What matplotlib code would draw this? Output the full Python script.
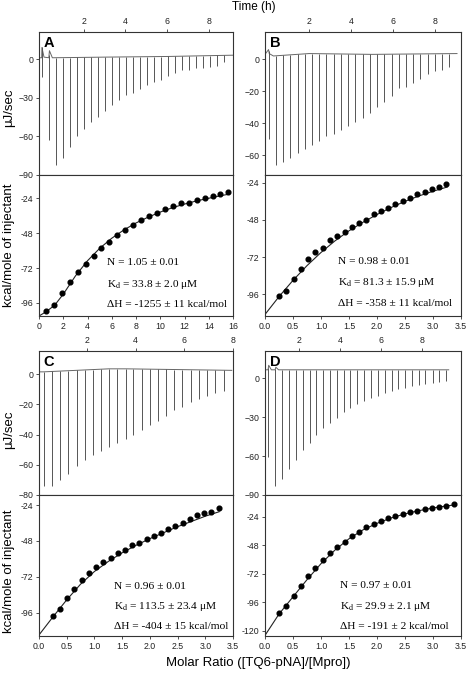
import numpy as np
import matplotlib
matplotlib.use("Agg")
import matplotlib.pyplot as plt

plt.rcParams['font.family'] = ['Liberation Sans', 'DejaVu Sans']
plt.rcParams['mathtext.fontset'] = 'stix'

# ---- raw thermograms: injection times (h) and peak tips (uJ/sec)
a_t = [0.0, 0.34, 0.69, 1.01, 1.35, 1.68, 2.02, 2.35, 2.69, 3.02, 3.36, 3.69, 4.03, 4.36,
       4.70, 5.03, 5.37, 5.70, 6.04, 6.37, 6.71, 7.04, 7.39, 7.73, 8.06, 8.40, 8.73]
a_tip = [-13.6, -63, -82, -77, -68, -60, -54, -49, -45, -40, -36, -32, -28, -26,
         -23, -20.5, -18, -16, -13, -11, -8.7, -8.2, -7.2, -6.7, -6.5, -5.1, -2.3]
a_base_t = [-0.14, -0.01, 0.0, 0.1, 0.33, 0.36, 0.5, 3.0, 6.0, 9.15]
a_base_v = [1.0, 1.0, 9.0, 1.5, 1.0, 6.5, 1.0, 1.5, 2.0, 3.0]

b_t = [0.08, 0.42, 0.77, 1.10, 1.45, 1.79, 2.13, 2.47, 2.82, 3.17, 3.52, 3.87, 4.20,
       4.55, 4.90, 5.25, 5.58, 5.93, 6.27, 6.62, 6.95, 7.30, 7.65, 8.00, 8.33, 8.68]
b_tip = [-50, -66.5, -64.6, -62, -59, -56, -54, -51.3, -48.3, -46.7, -44.2, -42, -39.4,
         -36.9, -33.8, -30, -26.5, -23.3, -18, -17.7, -15, -12.5, -9.2, -7.3, -7, -4.6]
b_base_t = [-0.1, 0.07, 0.1, 0.3, 2.0, 5.0, 9.04]
b_base_v = [3.0, 6.0, 3.5, 2.0, 3.5, 3.0, 3.5]

c_t = [0.22, 0.56, 0.90, 1.24, 1.58, 1.92, 2.24, 2.58, 2.91, 3.25, 3.59, 3.91,
       4.25, 4.59, 4.92, 5.26, 5.58, 5.92, 6.26, 6.59, 6.93, 7.27, 7.61]
c_tip = [-74, -74, -70, -65.8, -61, -57, -53.7, -51, -48.2, -45.6, -42.7, -40.5,
         -37.3, -34, -30.9, -28, -23.7, -21.5, -18.2, -16.7, -14.2, -12.7, -11.2]
c_base_t = [0.03, 0.22, 2.9, 3.6, 7.95]
c_base_v = [1.5, 1.5, 3.5, 3.5, 2.5]

d_t = [0.50, 0.84, 1.18, 1.51, 1.85, 2.18, 2.52, 2.85, 3.17, 3.52, 3.84, 4.18, 4.51, 4.84,
       5.18, 5.51, 5.85, 6.17, 6.52, 6.84, 7.17, 7.51, 7.84, 8.16, 8.51, 8.83, 9.17]
d_tip = [-60.8, -83.3, -77.6, -70.3, -62.8, -55.6, -49.7, -43.4, -38.3, -34.4, -30.3, -26.4,
         -23.3, -20.2, -17.6, -15.5, -13.7, -11.6, -9.8, -8.3, -7.2, -6.2, -5.4, -4.7,
         -3.6, -3.1, -2.1]
d_base_t = [0.34, 0.49, 0.52, 0.65, 0.83, 0.87, 1.0, 9.3]
d_base_v = [6.5, 6.5, 10.0, 6.5, 6.5, 8.5, 6.5, 6.5]

# ---- integrated heats (kcal/mole of injectant) and fitted curves
a_x = [0.6, 1.23, 1.88, 2.53, 3.19, 3.84, 4.5, 5.15, 5.8, 6.46, 7.11, 7.77,
       8.42, 9.07, 9.73, 10.38, 11.04, 11.69, 12.34, 13.0, 13.65, 14.31, 14.96, 15.61]
a_y = [-101.7, -97.1, -89.1, -81.8, -75, -69, -63.8, -58, -54.4, -49.6, -45.7, -42.3,
       -38.9, -35.9, -33.8, -31.5, -29.3, -27, -27, -25.4, -23.5, -22.4, -21.3, -19.7]
a_fit_x = [0, 0.6, 1.3, 2, 3, 4, 5, 6, 7, 8, 9, 10, 11, 12, 13, 14, 15, 15.6]
a_fit_y = [-105, -102, -97.5, -90, -77.5, -67, -58.5, -51.5, -45.8, -41, -37, -33.5,
           -30.5, -28, -25.8, -24, -22.2, -21.3]

bc_x = [0.25, 0.38, 0.51, 0.64, 0.77, 0.90, 1.03, 1.16, 1.29, 1.42, 1.55, 1.68,
        1.81, 1.94, 2.07, 2.20, 2.33, 2.46, 2.59, 2.72, 2.85, 2.98, 3.11, 3.24]
b_y = [-96.8, -93.8, -86.2, -79.8, -73, -68.7, -66.2, -60.8, -58.3, -55.7, -52.3, -49.8,
       -47.9, -44.4, -42.1, -40.4, -37.6, -36.1, -33.6, -31.5, -30, -28, -26.6, -25.1]
b_fit_x = [0, 0.25, 0.5, 0.75, 1.0, 1.25, 1.5, 1.75, 2.0, 2.25, 2.5, 2.75, 3.0, 3.25]
b_fit_y = [-109, -97.5, -87, -77.5, -69, -61.5, -55, -49.5, -44.5, -40, -36, -32.5,
           -29.5, -26.8]

c_y = [-98, -93.3, -86.2, -79.9, -73.9, -69.4, -65.4, -62.2, -59.3, -56.4, -54.2, -50.8,
       -49.3, -46.6, -45, -42.6, -40.1, -37.9, -35.9, -33.6, -30.7, -29.6, -28.5, -26.2]
c_fit_x = [0, 0.25, 0.5, 0.75, 1.0, 1.25, 1.5, 1.75, 2.0, 2.25, 2.5, 2.75, 3.0, 3.25]
c_fit_y = [-111, -99, -87.5, -77, -68.5, -61.8, -56, -51, -46.5, -42.5, -38.5, -35,
           -31.5, -28.5]

d_x = [0.25, 0.38, 0.51, 0.64, 0.77, 0.90, 1.03, 1.16, 1.29, 1.42, 1.55, 1.68, 1.81,
       1.94, 2.07, 2.20, 2.33, 2.46, 2.59, 2.72, 2.85, 2.98, 3.11, 3.24, 3.37]
d_y = [-105.4, -99, -90.5, -82.1, -74, -67, -60.5, -54.3, -49.3, -45.1, -40, -36.6, -33,
       -30.2, -27.6, -25.4, -23.4, -21.8, -20.1, -19, -17.5, -16.7, -15.6, -14.5, -12.8]
d_fit_x = [0, 0.25, 0.5, 0.75, 1.0, 1.25, 1.5, 1.75, 2.0, 2.25, 2.5, 2.75, 3.0, 3.25, 3.37]
d_fit_y = [-124, -106, -91.5, -77, -63.5, -52, -42.5, -35, -29.5, -25, -21.5, -18.8,
           -16.5, -14.8, -14]

fit_text = {
    'A': ["N = 1.05 ± 0.01", r"K$_{\rm d}$ = 33.8 ± 2.0 μM", "ΔH = -1255 ± 11 kcal/mol"],
    'B': ["N = 0.98 ± 0.01", r"K$_{\rm d}$ = 81.3 ± 15.9 μM", "ΔH = -358 ± 11 kcal/mol"],
    'C': ["N = 0.96 ± 0.01", r"K$_{\rm d}$ = 113.5 ± 23.4 μM", "ΔH = -404 ± 15 kcal/mol"],
    'D': ["N = 0.97 ± 0.01", r"K$_{\rm d}$ = 29.9 ± 2.1 μM", "ΔH = -191 ± 2 kcal/mol"],
}

W, H = 468, 676
fig = plt.figure(figsize=(W / 100, H / 100), dpi=100)
FRAME = '#333333'
TICK_FS = 6.3


def box(l, r, t, b):
    return [l / W, 1 - b / H, (r - l) / W, (b - t) / H]


def style(ax):
    for s in ax.spines.values():
        s.set_color(FRAME)
        s.set_linewidth(0.8)
    ax.tick_params(labelsize=TICK_FS, length=2.5, width=0.6, color=FRAME,
                   labelcolor='#222222', pad=1.5)


def thermo(rect, letter, t, tip, bt, bv, xlim, ylim, yticks):
    ax = fig.add_axes(rect)
    style(ax)
    base = np.interp(t, bt, bv)
    ax.plot(bt, bv, color='#666666', lw=0.7)
    ax.vlines(t, tip, base, color='#555555', lw=0.7)
    ax.set_xlim(*xlim)
    ax.set_ylim(*ylim)
    ax.set_xticks([2, 4, 6, 8])
    ax.xaxis.tick_top()
    ax.set_yticks(yticks)
    ax.text(0.025, 0.97, letter, transform=ax.transAxes, fontsize=10.5,
            fontweight='bold', va='top', ha='left')
    return ax


def binding(rect, letter, x, y, fx, fy, xlim, ylim, xticks, xlabels, yticks, tx, ty):
    ax = fig.add_axes(rect)
    style(ax)
    ax.plot(fx, fy, color='#222222', lw=0.8)
    ax.plot(x, y, 'o', color='black', ms=3.4)
    ax.set_xlim(*xlim)
    ax.set_ylim(*ylim)
    ax.set_xticks(xticks)
    ax.set_xticklabels(xlabels)
    ax.set_yticks(yticks)
    ax.set_yticklabels([str(v) for v in yticks])
    for line, yy in zip(fit_text[letter], ty):
        ax.text(tx, yy, line, transform=ax.transAxes, fontsize=8.2,
                family=['Liberation Serif', 'DejaVu Serif'], va='center', ha='left')
    return ax


x16 = [0, 2, 4, 6, 8, 10, 12, 14, 16]
x35 = [0, 0.5, 1.0, 1.5, 2.0, 2.5, 3.0, 3.5]
x35_lab = ['0.0', '0.5', '1.0', '1.5', '2.0', '2.5', '3.0', '3.5']

# A
thermo(box(39, 233, 32, 175), 'A', a_t, a_tip, a_base_t, a_base_v,
       (-0.14, 9.15), (-90, 21), [0, -30, -60, -90])
binding(box(39, 233, 175, 316), 'A', a_x, a_y, a_fit_x, a_fit_y, (0, 16), (-105, -8),
        x16, [str(v) for v in x16], [-24, -48, -72, -96], 0.35, [0.38, 0.225, 0.08])
# B
thermo(box(265, 461, 32, 175), 'B', b_t, b_tip, b_base_t, b_base_v,
       (-0.1, 9.23), (-72.5, 17), [0, -20, -40, -60])
binding(box(265, 461, 175, 316), 'B', bc_x, b_y, b_fit_x, b_fit_y, (0, 3.5), (-110, -19),
        x35, x35_lab, [-24, -48, -72, -96], 0.37, [0.39, 0.235, 0.09])
# C
thermo(box(39, 233, 351, 495), 'C', c_t, c_tip, c_base_t, c_base_v,
       (0.03, 8.0), (-80, 15.3), [0, -20, -40, -60, -80])
binding(box(39, 233, 495, 636), 'C', bc_x, c_y, c_fit_x, c_fit_y, (0, 3.5), (-111.7, -17.3),
        x35, x35_lab, [-24, -48, -72, -96], 0.385, [0.35, 0.208, 0.066])
# D
thermo(box(265, 461, 351, 495), 'D', d_t, d_tip, d_base_t, d_base_v,
       (0.34, 9.9), (-90, 21), [0, -30, -60, -90])
binding(box(265, 461, 495, 636), 'D', d_x, d_y, d_fit_x, d_fit_y, (0, 3.5), (-124.5, -5.6),
        x35, x35_lab, [-24, -48, -72, -96, -120], 0.385, [0.36, 0.208, 0.07])

# shared labels
fig.text(254 / W, 1 - 7 / H, "Time (h)", ha='center', va='center', fontsize=8.5)
fig.text(258 / W, 1 - 663 / H, "Molar Ratio ([TQ6-pNA]/[Mpro])", ha='center',
         va='center', fontsize=9.5)
for yc in (108, 430):
    fig.text(9 / W, 1 - yc / H, "μJ/sec", rotation=90, ha='center', va='center',
             fontsize=9.5)
for yc in (245, 571):
    fig.text(9 / W, 1 - yc / H, "kcal/mole of injectant", rotation=90, ha='center',
             va='center', fontsize=9.5)

fig.savefig("out.png", dpi=100)
